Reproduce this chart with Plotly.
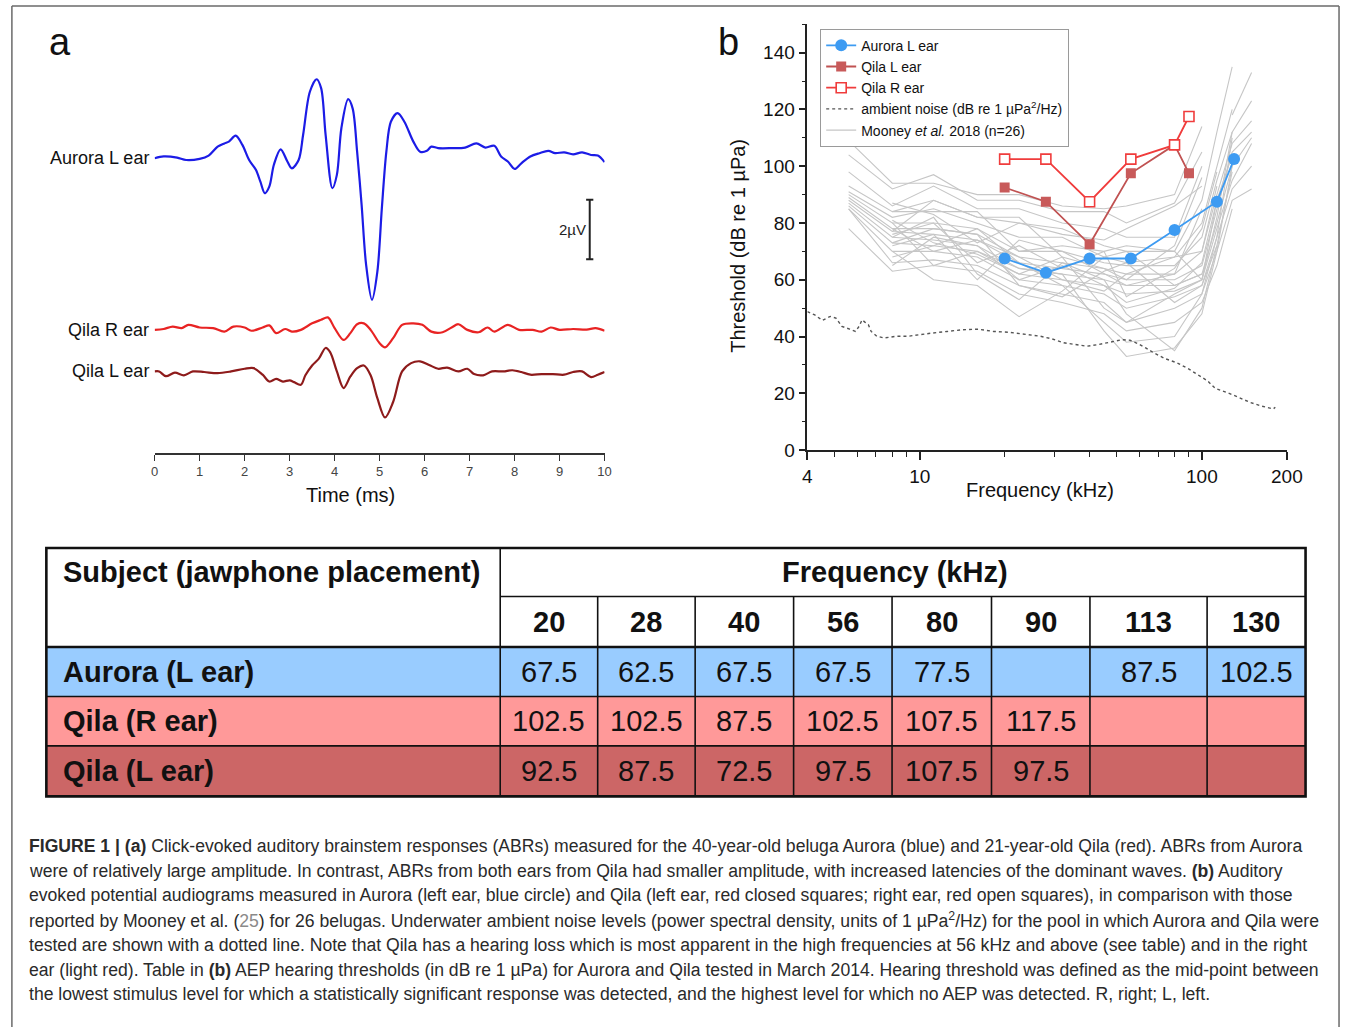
import plotly.graph_objects as go

W, H = 1357, 1027
FONT = "Liberation Sans, Arial, sans-serif"


def px(x):
    return x / W


def py(y):
    return 1 - y / H


# ---------------- Panel a: click-evoked ABR waveforms (time in ms, amplitude in µV) ----------------
aurora_t = [0, 0.2, 0.5, 0.7, 1.0, 1.2, 1.4, 1.55, 1.65, 1.8, 1.95, 2.1, 2.25, 2.35, 2.45, 2.55, 2.65, 2.8,
            2.95, 3.05, 3.2, 3.3, 3.45, 3.6, 3.7, 3.8, 3.95, 4.05, 4.15, 4.3, 4.4, 4.5, 4.6, 4.7, 4.83, 4.95,
            5.05, 5.15, 5.25, 5.4, 5.55, 5.75, 5.9, 6.05, 6.15, 6.3, 6.6, 6.9, 7.15, 7.35, 7.55, 7.7, 7.85,
            8.0, 8.15, 8.35, 8.55, 8.75, 8.9, 9.1, 9.3, 9.5, 9.7, 9.85, 10]
aurora_uv = [0, 0.06, 0.02, -0.06, -0.02, 0.09, 0.39, 0.5, 0.56, 0.76, 0.45, -0.06, -0.39, -0.79, -1.18,
             -0.95, -0.22, 0.30, -0.11, -0.34, -0.06, 0.79, 2.24, 2.66, 2.36, 0.79, -1.01, -0.56, 1.01, 1.99,
             1.68, 0.22, -1.57, -3.59, -4.77, -3.82, -1.68, 0.22, 1.23, 1.52, 1.23, 0.56, 0.22, 0.25, 0.39,
             0.34, 0.34, 0.36, 0.5, 0.36, 0.42, 0.06, -0.11, -0.36, -0.17, 0.06, 0.17, 0.25, 0.17, 0.2, 0.13,
             0.2, 0.11, 0.09, -0.13]

qila_r_t = [0, 0.2, 0.4, 0.6, 0.75, 1.0, 1.3, 1.55, 1.75, 2.0, 2.15, 2.4, 2.55, 2.7, 2.9, 3.05, 3.25, 3.5,
            3.7, 3.85, 4.0, 4.2, 4.35, 4.5, 4.65, 4.8, 5.0, 5.12, 5.3, 5.5, 5.75, 5.95, 6.15, 6.4, 6.6, 6.75,
            6.95, 7.2, 7.4, 7.55, 7.85, 8.1, 8.4, 8.6, 8.8, 9.0, 9.3, 9.6, 9.8, 10]
qila_r_uv = [0, 0.03, 0.11, 0.06, 0.17, 0.08, 0.06, -0.06, 0.11, 0.08, -0.03, 0.08, 0.15, -0.11, 0.03, -0.06,
             0, 0.22, 0.34, 0.42, 0.06, -0.34, -0.11, 0.19, 0.22, 0, -0.45, -0.59, -0.28, 0.17, 0.22, 0.17,
             -0.06, -0.08, 0.08, 0.19, 0, -0.08, 0.08, -0.06, 0.17, 0, 0, -0.06, 0.08, 0, 0.03, 0.01, 0.06,
             -0.03]

qila_l_t = [0, 0.1, 0.25, 0.45, 0.65, 0.85, 1.1, 1.4, 1.7, 2.0, 2.2, 2.4, 2.55, 2.7, 2.85, 3.0, 3.1, 3.25,
            3.35, 3.5, 3.65, 3.8, 3.9, 4.05, 4.2, 4.35, 4.5, 4.65, 4.8, 4.95, 5.12, 5.3, 5.5, 5.7, 5.9, 6.1,
            6.3, 6.5, 6.75, 6.95, 7.1, 7.3, 7.5, 7.75, 7.95, 8.15, 8.35, 8.6, 8.85, 9.1, 9.3, 9.5, 9.7, 9.85, 10]
qila_l_uv = [0, 0, -0.16, -0.04, -0.13, 0, -0.02, -0.06, 0, 0.09, 0.11, -0.11, -0.34, -0.25, -0.34, -0.3,
             -0.36, -0.45, -0.13, 0.2, 0.43, 0.79, 0.65, 0, -0.56, -0.17, 0.11, 0.2, -0.13, -0.9, -1.55, -1.03,
             0, 0.28, 0.34, 0.22, 0.09, 0.13, 0, 0.09, -0.09, -0.13, 0, 0, 0.04, -0.02, -0.11, -0.09, -0.09,
             -0.11, -0.02, 0, -0.19, -0.11, -0.02]

abr_labels = ["Aurora L ear", "Qila R ear", "Qila L ear"]
time_ticks = list(range(0, 11))

# ---------------- Panel b / table: AEP audiograms (kHz, dB re 1 µPa) ----------------
table_freqs = [20, 28, 40, 56, 80, 90, 113, 130]
aurora_thr = [67.5, 62.5, 67.5, 67.5, 77.5, None, 87.5, 102.5]
qila_r_thr = [102.5, 102.5, 87.5, 102.5, 107.5, 117.5, None, None]
qila_l_thr = [92.5, 87.5, 72.5, 97.5, 107.5, 97.5, None, None]
table_row_names = ["Aurora (L ear)", "Qila (R ear)", "Qila (L ear)"]

noise_f = [4, 4.25, 4.52, 4.82, 5.05, 5.3, 5.65, 5.92, 6.1, 6.25, 6.41, 6.58, 6.73, 7.05, 7.5, 8.27, 9.09,
           10, 11, 12.5, 14.2, 16.1, 18.3, 20.7, 23.6, 26.8, 29.4, 32.4, 35.6, 39.2, 43.1, 47.4, 52.1, 55.6,
           59.3, 63.2, 67.4, 74.1, 81.4, 89.4, 98.2, 104.7, 111.6, 122.7, 134.9, 148.2, 163, 179, 182]
noise_db = [48.8, 47.6, 45.7, 47.1, 46.5, 43.6, 42.6, 41.8, 43.6, 45.9, 45, 44.2, 41.8, 40.1, 39.5, 40.1,
            40.1, 40.7, 41.2, 41.8, 42.4, 42.6, 41.8, 41.5, 40.9, 40.1, 39.2, 37.8, 37.2, 36.6, 37.2, 38,
            38.9, 38.7, 37.5, 36, 34.3, 32.2, 30.8, 28.7, 26.1, 24.4, 21.7, 20.3, 18.6, 16.8, 15.5, 14.5, 15.1]

mooney_f = [5.6, 8, 11.2, 16, 22.5, 32, 45, 54, 80, 100, 113, 128, 150]
mooney_db = [
    [109, 94, 94, 90, 90, 86, 85, 86, 90, 114, None, None, None],
    [104, 92, 97, 88, 88, 84, 84, 80, 87, 105, None, 124, None],
    [98, 86, 93, 85, 85, 80, 78, 75, 75, 100, None, 118, 133],
    [93, 84, 88, 82, 80, 78, 72, 70, 70, 88, 112, 135, None],
    [91, 82, 85, 80, 75, 75, 68, 66, 68, 80, 100, 120, None],
    [90, 80, 80, 78, 70, 70, 66, 65, 65, 75, 95, 112, 123],
    [89, 78, 78, 76, 68, 66, 64, 62, 62, 70, 90, 108, 116],
    [88, 77, 76, 74, 66, 64, 62, 60, 60, 65, 85, 105, 112],
    [87, 75, 74, 72, 64, 62, 60, 58, 58, 62, 80, 100, 110],
    [86, 73, 72, 70, 62, 60, 58, 55, 56, 60, 78, 95, 108],
    [85, 70, 70, 68, 60, 58, 55, 50, 54, 58, 75, 92, 100],
    [85, 66, 67, 65, 58, 55, 52, 45, 50, 55, 70, 88, 92],
    [78, 63, 65, 63, 55, 52, 48, 42, 45, 52, 65, 85, None],
    [None, 77, 88, 82, 82, 68, 64, 60, 72, 96, None, 128, None],
    [None, 72, 76, 60, 74, 70, 62, 58, 62, 85, None, 115, None],
    [None, 68, 72, 78, 66, 58, 45, 38, 40, 55, 75, 110, None],
    [None, 80, 65, 70, 64, 62, 42, 33, 36, 48, 70, 100, None],
    [None, 75, 82, 62, 53, 66, 60, 48, 35, 50, 72, None, None],
    [None, 70, 60, 58, 47, 56, 68, 70, 58, 62, None, None, None],
    [None, 84, 84, 84, 70, 72, 70, 72, 70, 60, 88, None, None],
    [None, 87, 83, 73, 80, 76, 74, 78, 86, 93, None, None, None],
    [None, 76, 80, 66, 72, 64, 70, 54, 64, 78, 98, None, None],
    [None, 65, 75, 72, 60, 65, 58, 52, 57, 66, 88, 104, None],
    [None, 78, 70, 74, 68, 60, 56, 62, 68, 70, 93, None, None],
    [None, 81, 73, 69, 62, 68, 50, 45, 55, 60, 82, 112, None],
    [None, 73, 78, 76, 58, 54, 63, 66, 52, 58, 72, 98, None],
]

thr_ticks = [0, 20, 40, 60, 80, 100, 120, 140]
freq_ticks = [4, 10, 100, 200]
freq_minor = [5, 6, 7, 8, 9, 20, 30, 40, 50, 60, 70, 80, 90]

caption_lines = [
    "<b>FIGURE 1 | (a)</b> Click-evoked auditory brainstem responses (ABRs) measured for the 40-year-old beluga Aurora (blue) and 21-year-old Qila (red). ABRs from Aurora",
    "were of relatively large amplitude. In contrast, ABRs from both ears from Qila had smaller amplitude, with increased latencies of the dominant waves. <b>(b)</b> Auditory",
    "evoked potential audiograms measured in Aurora (left ear, blue circle) and Qila (left ear, red closed squares; right ear, red open squares), in comparison with those",
    "reported by Mooney et al. (<span style='color:#8a8a8a'>25</span>) for 26 belugas. Underwater ambient noise levels (power spectral density, units of 1 µPa<sup>2</sup>/Hz) for the pool in which Aurora and Qila were",
    "tested are shown with a dotted line. Note that Qila has a hearing loss which is most apparent in the high frequencies at 56 kHz and above (see table) and in the right",
    "ear (light red). Table in <b>(b)</b> AEP hearing thresholds (in dB re 1 µPa) for Aurora and Qila tested in March 2014. Hearing threshold was defined as the mid-point between",
    "the lowest stimulus level for which a statistically significant response was detected, and the highest level for which no AEP was detected. R, right; L, left.",
]

# ---------------- layout constants (pixels) ----------------
ABR_OFFSETS = [0, -5.78, -7.18]          # vertical stacking of waveforms, µV
ABR_COLORS = ["#1c1ce6", "#e82323", "#8e1b1b"]
A_X0, A_X1 = 152, 609
A_YTOP, A_YBOT = 60, 458
A_YRANGE = [-9.93, 3.33]
B_X0, B_X1 = 815, 1302
B_YTOP, B_YBOT = 24.5, 455
COL_EDGES = [42, 503, 602, 701, 801, 901, 1002, 1102, 1221, 1321]
ROW_EDGES = [554, 603, 654, 704, 754, 805]
ROW_FILLS = ["#99ccff", "#ff9999", "#cc6666"]

fig = go.Figure()

# Panel a traces
for t, v, off, col in zip([aurora_t, qila_r_t, qila_l_t], [aurora_uv, qila_r_uv, qila_l_uv],
                          ABR_OFFSETS, ABR_COLORS):
    fig.add_trace(go.Scatter(x=t, y=[a + off for a in v], mode="lines",
                             line=dict(color=col, width=2.2, shape="spline", smoothing=0.9),
                             showlegend=False, hoverinfo="skip", xaxis="x", yaxis="y"))

# Panel b traces
for i, row in enumerate(mooney_db):
    fig.add_trace(go.Scatter(x=mooney_f, y=row, mode="lines", line=dict(color="#c6c6c6", width=1.1),
                             name="Mooney <i>et al.</i> 2018 (n=26)", legendgroup="mooney",
                             showlegend=(i == 0), legendrank=5, xaxis="x2", yaxis="y2", hoverinfo="skip"))

fig.add_trace(go.Scatter(x=noise_f, y=noise_db, mode="lines",
                         line=dict(color="#555555", width=1.4, dash="dot"),
                         name="ambient noise (dB re 1 µPa<sup>2</sup>/Hz)", legendrank=4,
                         xaxis="x2", yaxis="y2"))
fig.add_trace(go.Scatter(x=table_freqs, y=qila_l_thr, mode="lines+markers", connectgaps=True,
                         line=dict(color="#c05252", width=1.8),
                         marker=dict(symbol="square", size=10, color="#c85a5a"),
                         name="Qila L ear", legendrank=2, xaxis="x2", yaxis="y2"))
fig.add_trace(go.Scatter(x=table_freqs, y=qila_r_thr, mode="lines+markers", connectgaps=True,
                         line=dict(color="#f03c3c", width=1.8),
                         marker=dict(symbol="square", size=10, color="white",
                                     line=dict(color="#f03c3c", width=1.6)),
                         name="Qila R ear", legendrank=3, xaxis="x2", yaxis="y2"))
fig.add_trace(go.Scatter(x=table_freqs, y=aurora_thr, mode="lines+markers", connectgaps=True,
                         line=dict(color="#3d9bf2", width=1.8),
                         marker=dict(symbol="circle", size=12, color="#3d9bf2"),
                         name="Aurora L ear", legendrank=1, xaxis="x2", yaxis="y2"))

shapes = []
annotations = []


def text(x, y, s, size, xanchor="center", yanchor="middle", xref="paper", yref="paper", color="#111",
         **kw):
    annotations.append(dict(xref=xref, yref=yref, x=x, y=y, text=s, showarrow=False, xanchor=xanchor,
                            yanchor=yanchor, font=dict(size=size, color=color, family=FONT), **kw))


# scale bar in panel a (2 µV)
SB_T, SB_TOP, SB_LEN, SB_CAP = 9.67, -1.4, 2.0, 0.08
shapes.append(dict(type="line", xref="x", yref="y", x0=SB_T, x1=SB_T, y0=SB_TOP, y1=SB_TOP - SB_LEN,
                   line=dict(color="#222", width=2)))
for yy in (SB_TOP, SB_TOP - SB_LEN):
    shapes.append(dict(type="line", xref="x", yref="y", x0=SB_T - SB_CAP, x1=SB_T + SB_CAP, y0=yy, y1=yy,
                       line=dict(color="#222", width=2)))
text(SB_T - 0.03, SB_TOP - SB_LEN / 2, "2µV", 15, xanchor="right", xref="x", yref="y", color="#222")

for lab, off in zip(abr_labels, ABR_OFFSETS):
    text(px(148), off, lab, 18, xanchor="right", yref="y")

text(px(351), py(500), "Time (ms)", 20)
text(px(1051), py(495), "Frequency (kHz)", 20)
text(px(745), py(248), "Threshold (dB re 1 µPa)", 20, textangle=-90)
text(px(56), py(42), "a", 38)
text(px(735), py(42), "b", 38)

# ---------------- table ----------------
for r, fill in enumerate(ROW_FILLS):
    shapes.append(dict(type="rect", xref="paper", yref="paper", x0=px(COL_EDGES[0]), x1=px(COL_EDGES[-1]),
                       y0=py(ROW_EDGES[2 + r]), y1=py(ROW_EDGES[3 + r]), fillcolor=fill, line=dict(width=0),
                       layer="below"))
LW_IN, LW_OUT = 1.6, 2.6
shapes.append(dict(type="line", xref="paper", yref="paper", x0=px(COL_EDGES[1]), x1=px(COL_EDGES[-1]),
                   y0=py(ROW_EDGES[1]), y1=py(ROW_EDGES[1]), line=dict(color="#111", width=LW_IN)))
for k in range(2, len(ROW_EDGES) - 1):
    shapes.append(dict(type="line", xref="paper", yref="paper", x0=px(COL_EDGES[0]), x1=px(COL_EDGES[-1]),
                       y0=py(ROW_EDGES[k]), y1=py(ROW_EDGES[k]),
                       line=dict(color="#111", width=LW_OUT if k == 2 else LW_IN)))
shapes.append(dict(type="line", xref="paper", yref="paper", x0=px(COL_EDGES[1]), x1=px(COL_EDGES[1]),
                   y0=py(ROW_EDGES[0]), y1=py(ROW_EDGES[-1]), line=dict(color="#111", width=LW_IN)))
for k in range(2, len(COL_EDGES) - 1):
    shapes.append(dict(type="line", xref="paper", yref="paper", x0=px(COL_EDGES[k]), x1=px(COL_EDGES[k]),
                       y0=py(ROW_EDGES[1]), y1=py(ROW_EDGES[-1]), line=dict(color="#111", width=LW_IN)))
shapes.append(dict(type="rect", xref="paper", yref="paper", x0=px(COL_EDGES[0]), x1=px(COL_EDGES[-1]),
                   y0=py(ROW_EDGES[-1]), y1=py(ROW_EDGES[0]), line=dict(color="#111", width=LW_OUT)))

TFONT = 29
text(px(COL_EDGES[0] + 15), py((ROW_EDGES[0] + ROW_EDGES[1]) / 2), "<b>Subject (jawphone placement)</b>",
     TFONT, xanchor="left")
text(px((COL_EDGES[1] + COL_EDGES[-1]) / 2 - 8), py((ROW_EDGES[0] + ROW_EDGES[1]) / 2),
     "<b>Frequency (kHz)</b>", TFONT)
for c, f in enumerate(table_freqs):
    xc = (COL_EDGES[1 + c] + COL_EDGES[2 + c]) / 2
    text(px(xc), py((ROW_EDGES[1] + ROW_EDGES[2]) / 2), "<b>%d</b>" % f, TFONT)
for r, (name, vals) in enumerate(zip(table_row_names, [aurora_thr, qila_r_thr, qila_l_thr])):
    yc = (ROW_EDGES[2 + r] + ROW_EDGES[3 + r]) / 2
    text(px(COL_EDGES[0] + 15), py(yc), "<b>%s</b>" % name, TFONT, xanchor="left")
    for c, v in enumerate(vals):
        if v is None:
            continue
        xc = (COL_EDGES[1 + c] + COL_EDGES[2 + c]) / 2
        text(px(xc), py(yc), "%g" % v, TFONT)

# ---------------- caption ----------------
for i, line in enumerate(caption_lines):
    text(px(22), py(855 + 25 * i), line, 17.6, xanchor="left", color="#2a2a2a")

# figure frame
for x0, y0, x1, y1 in [(7, 6, 1355, 6), (7, 6, 7, 1040), (1355, 6, 1355, 1040)]:
    shapes.append(dict(type="line", xref="paper", yref="paper", x0=px(x0), x1=px(x1), y0=py(y0), y1=py(y1),
                       line=dict(color="#6a6a6a", width=1.5)))

fig.update_layout(
    width=W, height=H, autosize=False, margin=dict(l=0, r=0, t=0, b=0),
    paper_bgcolor="white", plot_bgcolor="rgba(0,0,0,0)",
    font=dict(family=FONT, color="#111"),
    shapes=shapes, annotations=annotations,
    xaxis=dict(domain=[px(A_X0), px(A_X1)], range=[0, 10], anchor="y", tickvals=time_ticks,
               showline=True, linecolor="#333", linewidth=1.5, ticks="outside", ticklen=6, tickwidth=1.3,
               tickcolor="#333", tickfont=dict(size=13, color="#444"), showgrid=False, zeroline=False,
               fixedrange=True),
    yaxis=dict(domain=[py(A_YBOT), py(A_YTOP)], range=A_YRANGE, anchor="x", visible=False,
               showgrid=False, zeroline=False, fixedrange=True),
    xaxis2=dict(domain=[px(B_X0), px(B_X1)], type="log", range=[0.60206, 2.30103], anchor="y2",
                tickvals=freq_ticks, ticktext=[str(v) for v in freq_ticks],
                showline=True, linecolor="#222", linewidth=1.6, ticks="outside", ticklen=8, tickwidth=1.5,
                tickcolor="#222", tickfont=dict(size=19, color="#111"), showgrid=False, zeroline=False,
                minor=dict(tickvals=freq_minor, ticks="outside", ticklen=5, tickwidth=1.3, tickcolor="#222",
                           showgrid=False),
                fixedrange=True),
    yaxis2=dict(domain=[py(B_YBOT), py(B_YTOP)], range=[0, 150], anchor="x2", tickvals=thr_ticks,
                showline=True, linecolor="#222", linewidth=1.6, ticks="outside", ticklen=7, tickwidth=1.5,
                tickcolor="#222", tickfont=dict(size=19, color="#111"), showgrid=False, zeroline=False,
                minor=dict(dtick=10, ticks="outside", ticklen=4, tickwidth=1.3, tickcolor="#222",
                           showgrid=False),
                fixedrange=True),
    legend=dict(x=px(828), y=py(29), xanchor="left", yanchor="top", bgcolor="white", bordercolor="#9a9a9a",
                borderwidth=1, font=dict(size=14, color="#111", family=FONT), tracegroupgap=0,
                itemwidth=30, traceorder="normal"),
    showlegend=True,
)

fig.write_html("out.html", config={"displayModeBar": False},
               post_script="document.body.style.margin='0px';document.body.style.overflow='hidden';")
